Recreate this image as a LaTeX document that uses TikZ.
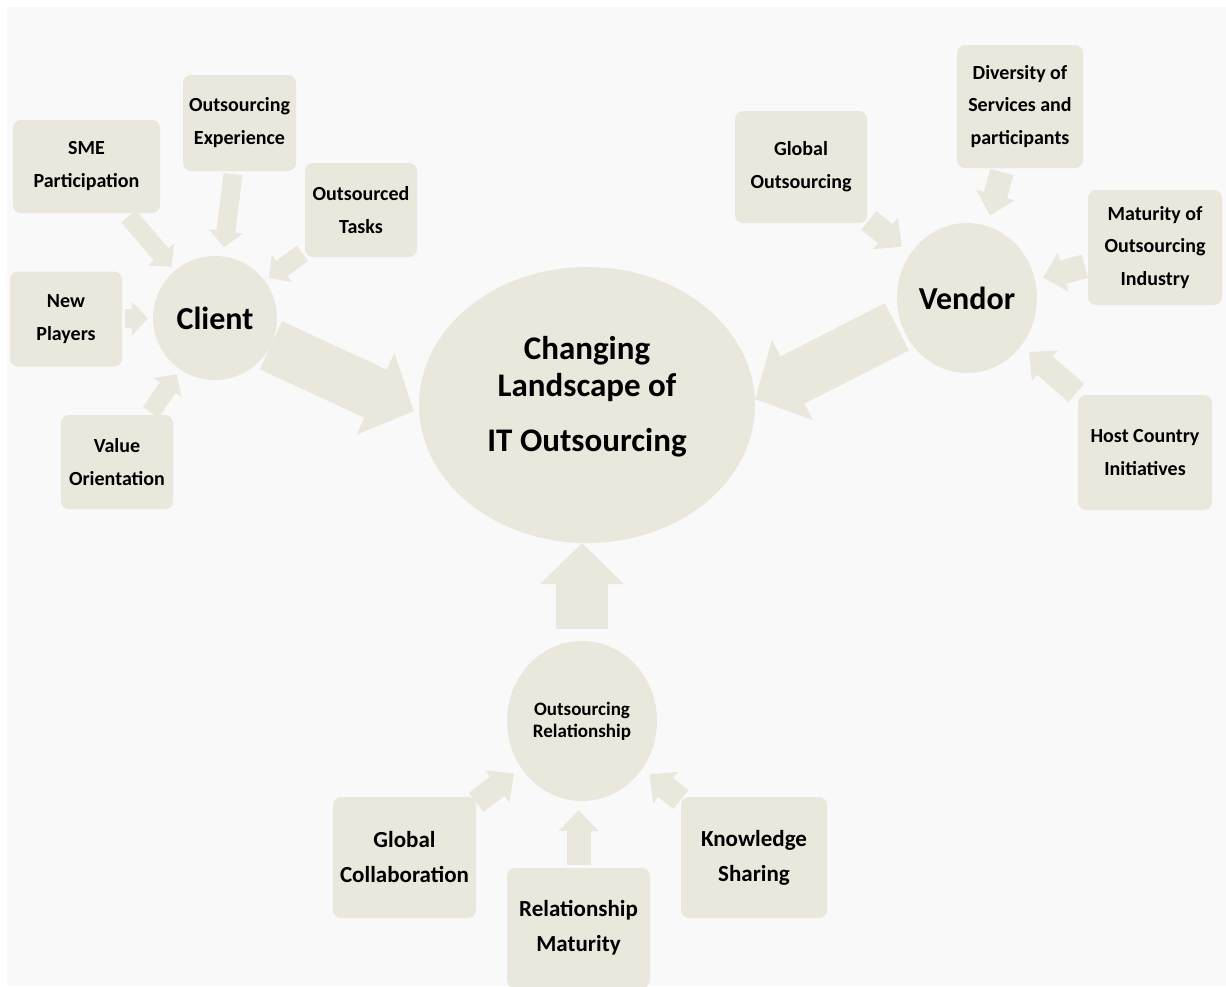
\documentclass[tikz,border=0pt]{standalone}
\usepackage{fontspec}
\setmainfont{Carlito}
\usetikzlibrary{arrows.meta,shapes.geometric}
\definecolor{boxfill}{HTML}{EAE7DD}
\definecolor{pagebg}{HTML}{F9F9F9}
\tikzset{
  box/.style={fill=boxfill, rounded corners=8pt, align=center, inner sep=0pt,
    font=\bfseries\fontsize{20}{33}\selectfont},
  bigbox/.style={box, font=\bfseries\fontsize{23}{35}\selectfont},
  hub/.style={fill=boxfill, ellipse, inner sep=0pt, align=center,
    font=\bfseries\fontsize{32}{38}\selectfont},
  bigarrow/.style={draw=boxfill, line width=53pt,
    -{Triangle[length=42pt,width=90pt,line width=0pt]}},
  uparrow/.style={draw=boxfill, line width=52pt,
    -{Triangle[length=41pt,width=84pt,line width=0pt]}},
  carrow/.style={draw=boxfill, line width=19pt,
    -{Triangle[length=16pt,width=34pt,line width=0pt]}},
  varrow/.style={draw=boxfill, line width=24pt,
    -{Triangle[length=21pt,width=40pt,line width=0pt]}},
}
\begin{document}
\begin{tikzpicture}[x=1pt,y=-1pt]
\useasboundingbox (0,0) rectangle (1226,986);
\fill[white] (0,0) rectangle (1226,986);
\fill[pagebg] (7,7) rectangle (1226,986);

% hubs
\node[hub, minimum width=336pt, minimum height=276pt] (center) at (587,405) {};
\node[font=\bfseries\fontsize{33}{37}\selectfont, align=center] (ctext) at (587,397)
  {Changing\\Landscape of\\[18pt]IT Outsourcing};
\node[hub, circle, minimum size=124pt] (client) at (215,318) {Client};
\node[hub, minimum width=140pt, minimum height=150pt] (vendor) at (967,298) {Vendor};
\node[hub, minimum width=150pt, minimum height=160pt,
  font=\bfseries\fontsize{19}{22}\selectfont] (rel) at (582,721) {Outsourcing\\Relationship};

% client factors
\node[box, minimum width=147pt, minimum height=93pt] (sme) at (86.5,166.5) {SME\\Participation};
\node[box, minimum width=113pt, minimum height=96pt] (exp) at (239.5,123) {Outsourcing\\Experience};
\node[box, minimum width=112pt, minimum height=94pt] (tasks) at (361,210) {Outsourced\\Tasks};
\node[box, minimum width=112pt, minimum height=95pt] (newp) at (66,319) {New\\Players};
\node[box, minimum width=112pt, minimum height=94pt] (value) at (117,462) {Value\\Orientation};

% vendor factors
\node[box, minimum width=132pt, minimum height=112pt] (gout) at (801,167) {Global\\Outsourcing};
\node[box, minimum width=126pt, minimum height=123pt, font=\bfseries\fontsize{20}{32.5}\selectfont]
  (div) at (1020,106.5) {Diversity of\\Services and\\participants};
\node[box, minimum width=134pt, minimum height=115pt, font=\bfseries\fontsize{20}{32.5}\selectfont]
  (mat) at (1155,247.5) {Maturity of\\Outsourcing\\Industry};
\node[box, minimum width=134pt, minimum height=115pt] (host) at (1145,452.5) {Host Country\\Initiatives};

% relationship factors
\node[bigbox, minimum width=143pt, minimum height=121pt] (gc) at (404.5,857.5) {Global\\Collaboration};
\node[bigbox, minimum width=143pt, minimum height=120pt] (rm) at (578.5,928) {Relationship\\Maturity};
\node[bigbox, minimum width=146pt, minimum height=121pt] (ks) at (754,857.5) {Knowledge\\Sharing};

% big arrows
\draw[bigarrow, shorten >=6pt] (client.-26) -- (center.183);
\draw[bigarrow, shorten <=5pt] (vendor.202) -- (center.2);
\draw[uparrow, shorten <=12pt] (rel.north) -- (rel.north |- center.south);

% client arrows
\draw[carrow, shorten <=4pt, shorten >=5pt] (sme) -- (client);
\draw[carrow, shorten <=3pt, shorten >=9pt] (exp) -- (client);
\draw[carrow, shorten <=3pt, shorten >=5pt] (tasks) -- (client);
\draw[carrow, shorten <=3pt, shorten >=5pt] (newp) -- (client);
\draw[carrow, shorten <=3pt, shorten >=6pt] (value) -- (client);

% vendor arrows
\draw[varrow, shorten <=2pt, shorten >=11pt] (gout) -- (vendor);
\draw[varrow, shorten <=4pt, shorten >=11pt] (div) -- (vendor);
\draw[varrow, shorten <=3pt, shorten >=8pt] (mat) -- (vendor);
\draw[varrow, shorten <=3pt, shorten >=10pt] (host) -- (vendor);

% relationship arrows
\draw[varrow, shorten >=9pt] (gc) -- (rel);
\draw[varrow, shorten <=3pt, shorten >=9pt] (rm.north) -- (rm.north |- rel.south);
\draw[varrow, shorten >=9pt] (ks) -- (rel);
\end{tikzpicture}
\end{document}
